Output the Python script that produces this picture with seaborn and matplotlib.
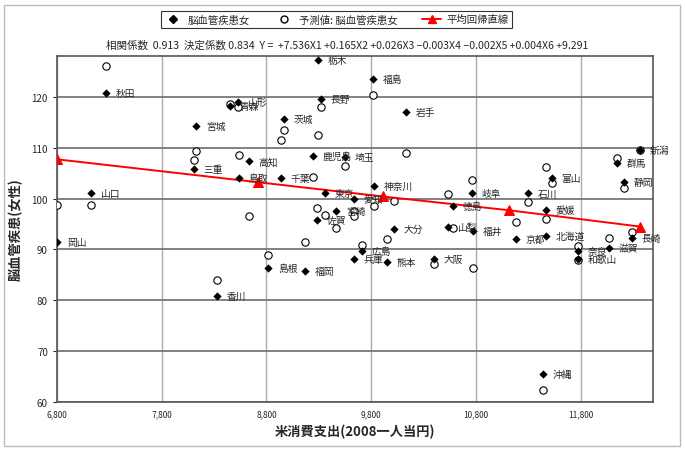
import matplotlib
matplotlib.use("Agg")
import matplotlib.pyplot as plt
import matplotlib.ticker as mticker
from matplotlib.patches import Rectangle
from matplotlib.lines import Line2D
import seaborn as sns
import pandas as pd

# data
prefs = ["秋田", "山形", "青森", "宮城", "三重", "高知", "鳥取", "栃木", "福島", "長野",
         "茨城", "岩手", "鹿児島", "埼玉", "千葉", "神奈川", "東京", "愛知", "宮崎", "佐賀",
         "大分", "山梨", "徳島", "広島", "兵庫", "熊本", "大阪", "島根", "福岡", "山口",
         "岡山", "香川", "岐阜", "石川", "富山", "静岡", "群馬", "新潟", "福井", "京都",
         "愛媛", "北海道", "奈良", "和歌山", "滋賀", "長崎", "沖縄"]
rice_spend = [7268, 8527, 8450, 8126, 8107, 8632, 8536, 9290, 9815, 9319,
              8966, 10130, 9242, 9548, 8937, 9824, 9357, 9633, 9462, 9280,
              10015, 10530, 10578, 9710, 9633, 9948, 10397, 8813, 9166, 7124,
              6800, 8326, 10759, 11293, 11522, 12210, 12143, 12362, 10769, 11178,
              11465, 11465, 11770, 11770, 12067, 12287, 11437]
actual = [120.7, 119.0, 118.2, 114.2, 105.8, 107.3, 104.0, 127.3, 123.5, 119.6,
          115.6, 117.0, 108.3, 108.1, 104.0, 102.4, 101.0, 100.0, 97.5, 95.7,
          94.1, 94.5, 98.5, 89.6, 88.2, 87.6, 88.2, 86.4, 85.8, 101.0,
          91.4, 80.9, 101.0, 101.0, 104.0, 103.2, 106.9, 109.5, 93.7, 92.1,
          97.7, 92.7, 89.6, 88.2, 90.2, 92.3, 65.6]
predicted = [126.1, 118.0, 118.6, 109.3, 107.5, 96.5, 108.5, 112.5, 120.4, 118.0,
             113.5, 108.9, 104.2, 106.4, 111.5, 98.5, 96.7, 97.5, 94.3, 98.1,
             99.6, 100.8, 94.3, 90.8, 96.5, 92.1, 87.2, 89.0, 91.4, 98.7,
             98.7, 83.9, 103.6, 99.4, 103.0, 102.0, 107.9, 109.5, 86.4, 95.3,
             95.9, 106.2, 90.6, 88.0, 92.3, 93.5, 62.4]
reg_x = [6800, 8718, 9910, 11113, 12362]
reg_y = [107.7, 103.2, 100.4, 97.7, 94.5]

sns.set_style("white")
plt.rcParams['font.family'] = ['Noto Sans CJK JP', 'DejaVu Sans']

df = pd.DataFrame({"pref": prefs, "x": rice_spend, "actual": actual, "pred": predicted})

fig = plt.figure(figsize=(6.86, 4.52), dpi=100)
ax = fig.add_axes([0.083, 0.108, 0.869, 0.766])

sns.scatterplot(data=df, x="x", y="pred", ax=ax, marker="o", s=28,
                facecolor="white", edgecolor="black", linewidth=0.8, zorder=3)
sns.lineplot(x=reg_x, y=reg_y, ax=ax, color="red", linewidth=1.4,
             marker="^", markersize=7, markeredgecolor="red", zorder=4)
sns.scatterplot(data=df, x="x", y="actual", ax=ax, marker="D", s=15,
                color="black", edgecolor="black", zorder=5)

# 都道府県名
for _, r in df.iterrows():
    ax.text(r["x"] + 95, r["actual"], r["pref"], fontsize=7, va="center", ha="left", zorder=6)

ax.set_xlim(6800, 12490)
ax.set_ylim(60, 128)
ax.xaxis.set_major_locator(mticker.FixedLocator(range(6800, 12000, 1000)))
ax.xaxis.set_major_formatter(mticker.FuncFormatter(lambda v, p: f"{int(v):,}"))
ax.set_yticks(range(60, 121, 10))
ax.tick_params(axis="x", labelsize=6, length=0, pad=5)
ax.tick_params(axis="y", labelsize=7, length=3, direction="out", left=True)

ax.grid(axis="x", color="#aaaaaa", linewidth=1.0)
ax.grid(axis="y", color="#777777", linewidth=1.3)
for sp in ax.spines.values():
    sp.set_color("#555555")
    sp.set_linewidth(1.2)

ax.set_xlabel("米消費支出(2008一人当円)", fontsize=9.5, fontweight="bold", labelpad=4)
ax.set_ylabel("脳血管疾患(女性)", fontsize=9.5, fontweight="bold", labelpad=6)

# 凡例
handles = [
    Line2D([], [], marker="D", color="black", linestyle="none", markersize=4),
    Line2D([], [], marker="o", markerfacecolor="white", markeredgecolor="black",
           linestyle="none", markersize=5),
    Line2D([], [], marker="^", color="red", linewidth=1.4, markersize=6),
]
leg = fig.legend(handles, ["脳血管疾患女", "予測値: 脳血管疾患女", "平均回帰直線"],
                 loc="center", bbox_to_anchor=(0.49, 0.955), ncol=3, fontsize=7.5,
                 frameon=True, fancybox=False, edgecolor="black", handlelength=1.8,
                 columnspacing=2.4, borderpad=0.3, handletextpad=0.5)
leg.get_frame().set_linewidth(0.8)

fig.text(0.155, 0.898,
         "相関係数  0.913  決定係数 0.834  Y =  +7.536X1 +0.165X2 +0.026X3 −0.003X4 −0.002X5 +0.004X6 +9.291",
         fontsize=7.6, ha="left", va="center")

fig.patches.append(Rectangle((0.006, 0.012), 0.985, 0.975, transform=fig.transFigure,
                             fill=False, edgecolor="#bbbbbb", linewidth=1.0))

fig.savefig("out.png", dpi=100)
